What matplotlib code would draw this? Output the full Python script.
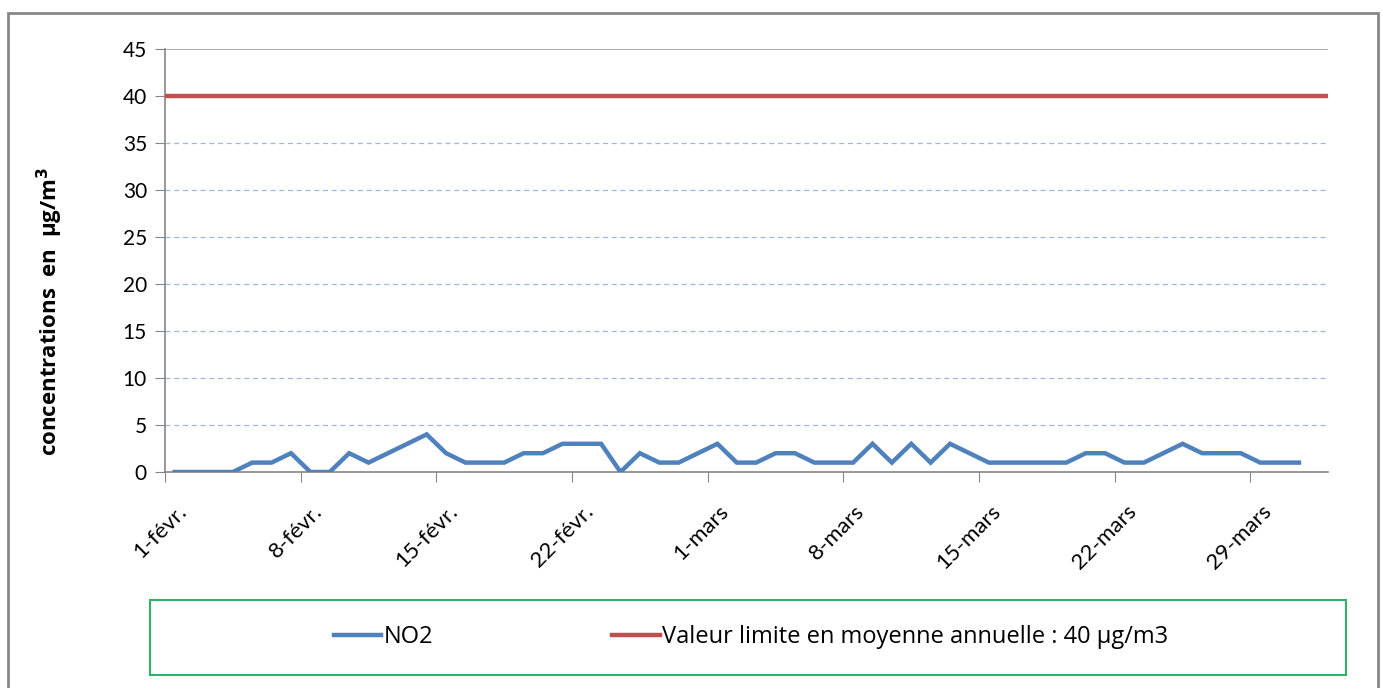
import numpy as np
import pandas as pd
import matplotlib
matplotlib.use("Agg")
from matplotlib import pyplot as plt
from matplotlib.patches import Rectangle
import matplotlib.dates as mdates
import matplotlib.transforms as mtransforms

plt.rcParams['font.family'] = ['Lato', 'DejaVu Sans']

# daily NO2 values, 1 Feb -> 31 Mar (ug/m3)
dates = pd.date_range("2015-02-01", "2015-03-31", freq="D")
no2 = [0, 0, 0, 0, 1, 1, 2, 0, 0, 2,
       1, 2, 3, 4, 2, 1, 1, 1, 2, 2,
       3, 3, 3, 0, 2, 1, 1, 2, 3, 1,
       1, 2, 2, 1, 1, 1, 3, 1, 3, 1,
       3, 2, 1, 1, 1, 1, 1, 2, 2, 1,
       1, 2, 3, 2, 2, 2, 1, 1, 1]
limit = 40
tick_dates = pd.to_datetime(["2015-02-01", "2015-02-08", "2015-02-15", "2015-02-22",
                             "2015-03-01", "2015-03-08", "2015-03-15", "2015-03-22",
                             "2015-03-29"])
tick_labels = ["1-févr.", "8-févr.", "15-févr.", "22-févr.", "1-mars",
               "8-mars", "15-mars", "22-mars", "29-mars"]

blue = '#4F81BD'
red = '#C0504D'
grey = '#868686'

fig = plt.figure(figsize=(13.83, 6.88), dpi=100)
ax = fig.add_axes([165/1383, 1-472/688, (1328-165)/1383, (472-49)/688])

x = mdates.date2num(dates)
ax.plot(x, no2, color=blue, lw=3.2, solid_joinstyle='miter', label='NO2', zorder=3)
half = 0.5
ax.axhline(limit, color=red, lw=3.2, label='Valeur limite en moyenne annuelle : 40 µg/m3', zorder=3)

ax.set_xlim(x[0]-half, x[-1]+1+half)
ax.set_ylim(0, 45)
ax.set_yticks(range(0, 50, 5))
for v in range(5, 45, 5):
    ax.axhline(v, color='#9DB9E0', lw=0.9, ls=(0, (4, 3)), zorder=1)
ax.axhline(45, color='#A6A6A6', lw=1.3, zorder=1)

ax.set_xticks(mdates.date2num(tick_dates) - half)
ax.set_xticklabels(tick_labels, rotation=45, ha='right', va='top', rotation_mode='anchor')
ax.tick_params(axis='x', length=7, color=grey, labelsize=16, pad=6)
ax.tick_params(axis='y', length=7, color=grey, labelsize=15, pad=6)
# push the slanted labels a little right and down, like Excel does
shift = mtransforms.ScaledTranslation(11/100, -11/100, fig.dpi_scale_trans)
for lab in ax.get_xticklabels():
    lab.set_transform(lab.get_transform() + shift)
for s in ['top', 'right']:
    ax.spines[s].set_visible(False)
for s in ['left', 'bottom']:
    ax.spines[s].set_color(grey)
    ax.spines[s].set_linewidth(1.2)

fig.text(50/1383, 1-311/688, 'concentrations  en  µg/m$^\\mathbf{3}$', rotation=90,
         ha='center', va='center', fontsize=16, fontweight='bold',
         family=['Open Sans', 'DejaVu Sans'])

# outer frame
fig.patches.append(Rectangle((8/1383, -0.05), (1378-8)/1383, 1.05-13/688,
                             transform=fig.transFigure, fill=False,
                             edgecolor='#878787', lw=2))
# legend box
fig.patches.append(Rectangle((150/1383, 1-675/688), (1346-150)/1383, 75/688,
                             transform=fig.transFigure, fill=False,
                             edgecolor='#2DB36A', lw=1.5))
fig.legend(loc='center', bbox_to_anchor=(751/1383, 1-637/688), ncol=2, frameon=False,
           prop={'family': ['Open Sans', 'DejaVu Sans'], 'size': 17},
           handlelength=2.0, handletextpad=0.1, columnspacing=7.6)

fig.savefig('out.png', dpi=100)
